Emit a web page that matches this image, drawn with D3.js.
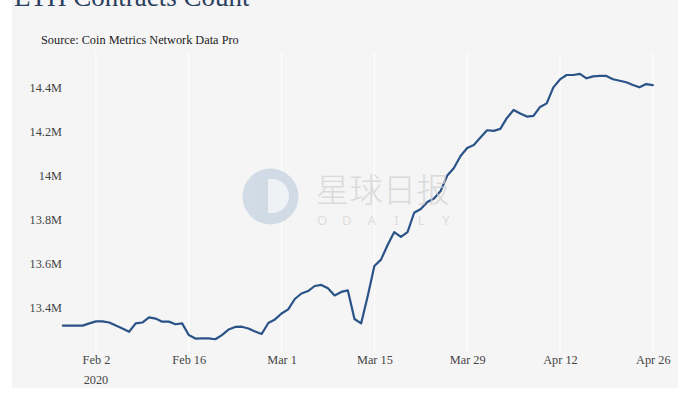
<!DOCTYPE html>
<html>
<head>
<meta charset="utf-8">
<script src="https://cdn.jsdelivr.net/npm/d3@7"></script>
<style>
  html, body { margin: 0; padding: 0; background: #ffffff; }
  svg { display: block; }
</style>
</head>
<body>
<svg id="chart" width="691" height="394"></svg>
<script>
// ---- Data ----
const titleText = "ETH Contracts Count";
const sourceText = "Source: Coin Metrics Network Data Pro";
const startDate = "2020-01-28"; // first daily observation
const contractsCountM = [
  13.320,13.320,13.320,13.320,13.330,13.339,13.339,13.334,13.320,13.307,
  13.292,13.330,13.334,13.357,13.352,13.338,13.338,13.326,13.330,13.277,
  13.261,13.262,13.262,13.258,13.277,13.302,13.314,13.315,13.307,13.293,
  13.282,13.332,13.348,13.375,13.394,13.441,13.466,13.477,13.500,13.505,
  13.490,13.457,13.473,13.480,13.350,13.330,13.455,13.591,13.620,13.686,
  13.745,13.723,13.745,13.833,13.850,13.882,13.898,13.932,14.002,14.036,
  14.091,14.127,14.141,14.175,14.208,14.205,14.214,14.264,14.300,14.284,
  14.270,14.273,14.314,14.330,14.403,14.439,14.459,14.459,14.464,14.444,
  14.453,14.455,14.455,14.440,14.433,14.426,14.414,14.403,14.418,14.413
];
const xTickDates = ["2020-02-02","2020-02-16","2020-03-01","2020-03-15","2020-03-29","2020-04-12","2020-04-26"];
const xTickLabels = ["Feb 2","Feb 16","Mar 1","Mar 15","Mar 29","Apr 12","Apr 26"];
const yTickValuesM = [13.4, 13.6, 13.8, 14.0, 14.2, 14.4];
const yTickLabels = ["13.4M","13.6M","13.8M","14M","14.2M","14.4M"];

// ---- Build series ----
const t0 = new Date(startDate + "T00:00:00Z");
const series = contractsCountM.map((v, i) => ({ date: d3.utcDay.offset(t0, i), value: v * 1e6 }));

const svg = d3.select("#chart");
const serif = "'Liberation Serif', 'Times New Roman', serif";

// panel background
svg.append("rect").attr("x", 12).attr("y", 0).attr("width", 666).attr("height", 388).attr("fill", "#f5f5f5");

const x = d3.scaleUtc()
  .domain([t0, series[series.length - 1].date])
  .range([62.8, 652.8]);
const y = d3.scaleLinear()
  .domain([13.2e6, 14.5e6])
  .range([352, 66]);

const tickDates = xTickDates.map(s => new Date(s + "T00:00:00Z"));

// vertical gridlines
svg.append("g").selectAll("line").data(tickDates).join("line")
  .attr("x1", d => x(d)).attr("x2", d => x(d))
  .attr("y1", 52).attr("y2", 352)
  .attr("stroke", "#ffffff").attr("stroke-width", 1);

// title & subtitle
svg.append("text").attr("x", 14).attr("y", 6)
  .style("font-family", serif).attr("font-size", 27).attr("fill", "#2a3f5f")
  .text(titleText);
svg.append("text").attr("x", 41).attr("y", 44)
  .style("font-family", serif).attr("font-size", 12.3).attr("fill", "#222")
  .text(sourceText);

// y axis labels
const yAxis = d3.axisLeft(y).tickValues(yTickValuesM.map(v => v * 1e6))
  .tickSize(0).tickPadding(0)
  .tickFormat((d, i) => yTickLabels[i]);
const gy = svg.append("g").attr("transform", "translate(62,0)").call(yAxis);
gy.select(".domain").remove();
gy.attr("font-family", null).attr("font-size", null);
gy.selectAll("text").style("font-family", serif).style("font-size", "12.3px").attr("fill", "#444");

// x axis labels
const xAxis = d3.axisBottom(x).tickValues(tickDates).tickSize(0).tickPadding(0)
  .tickFormat((d, i) => xTickLabels[i]);
const gx = svg.append("g").attr("transform", "translate(0,355)").call(xAxis);
gx.select(".domain").remove();
gx.attr("font-family", null).attr("font-size", null);
gx.selectAll("text").style("font-family", serif).style("font-size", "12.3px").attr("fill", "#444");
svg.append("text").attr("x", x(tickDates[0])).attr("y", 384).attr("text-anchor", "middle")
  .style("font-family", serif).attr("font-size", 12.3).attr("fill", "#444").text("2020");

// line
const line = d3.line().x(d => x(d.date)).y(d => y(d.value));
svg.append("path").datum(series)
  .attr("d", line).attr("fill", "none")
  .attr("stroke", "#2a5388").attr("stroke-width", 2.2)
  .attr("stroke-linejoin", "round").attr("stroke-linecap", "round");

// watermark
const wm = svg.append("g").attr("opacity", 0.75);
wm.append("circle").attr("cx", 270.5).attr("cy", 196.5).attr("r", 28).attr("fill", "#c5d3e0");
wm.append("path").attr("d", "M268,179 L272,179 A17,17 0 0 1 272,213 L268,213 Z").attr("fill", "#eef2f6");
wm.append("text").attr("x", 316).attr("y", 202)
  .style("font-family", "'Noto Sans CJK SC', sans-serif").attr("font-weight", 300)
  .attr("font-size", 33).attr("fill", "#d2d2d2").attr("letter-spacing", 0.5)
  .text("星球日报");
const letters = ["O","D","A","I","L","Y"];
wm.append("g").selectAll("text").data(letters).join("text")
  .attr("x", (d, i) => 322 + i * 24.8).attr("y", 225).attr("text-anchor", "middle")
  .style("font-family", "'Noto Sans', sans-serif").attr("font-size", 13).attr("fill", "#d6d6d6")
  .text(d => d);
</script>
</body>
</html>
